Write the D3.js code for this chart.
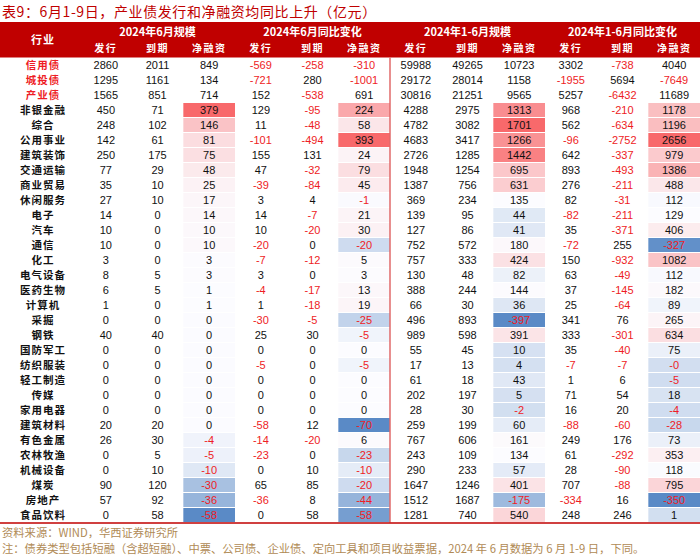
<!DOCTYPE html>
<html>
<head>
<meta charset="utf-8">
<script src="https://cdn.jsdelivr.net/npm/d3@7"></script>
<style>
  body { margin: 0; background: #fff; }
  svg text { font-family: "Liberation Sans", Arial, sans-serif; }
  .cjk { font-family: "Noto Sans CJK SC", sans-serif; }
</style>
</head>
<body>
<svg id="drawing_region"></svg>
<script>
// 行业
const industries = ["信用债","城投债","产业债","非银金融","综合","公用事业","建筑装饰","交通运输","商业贸易","休闲服务",
  "电子","汽车","通信","化工","电气设备","医药生物","计算机","采掘","钢铁","国防军工","纺织服装","轻工制造",
  "传媒","家用电器","建筑材料","有色金属","农林牧渔","机械设备","煤炭","房地产","食品饮料"];

const groupLabels = ["2024年6月规模","2024年6月同比变化","2024年1-6月规模","2024年1-6月同比变化"];
const subLabels = ["发行","到期","净融资"];

// 2024年6月规模
const issue6  = [2860,1295,1565,450,248,142,250,77,35,27,14,10,10,3,8,6,1,0,40,0,0,0,0,0,20,26,0,0,90,57,0];
const mature6 = [2011,1161,851,71,102,61,175,29,10,10,0,0,0,0,5,5,0,0,40,0,0,0,0,0,20,30,5,10,120,92,58];
const net6    = [849,134,714,379,146,81,75,48,25,17,14,10,10,3,3,1,1,0,0,0,0,0,0,0,0,-4,-5,-10,-30,-36,-58];
// 2024年6月同比变化
const issue6Yoy  = [-569,-721,152,129,11,-101,155,47,-39,3,14,10,-20,-7,3,-4,1,-30,25,0,-5,0,0,0,-58,-14,-23,0,65,-36,0];
const mature6Yoy = [-258,280,-538,-95,-48,-494,131,-32,-84,4,-7,-20,0,-12,0,-17,-18,-5,30,0,0,0,0,0,12,-20,0,10,85,8,58];
const net6Yoy    = [-310,-1001,691,224,58,393,24,79,45,-1,21,30,-20,5,3,13,19,-25,-5,0,-5,0,0,0,-70,6,-23,-10,-20,-44,-58];
// 2024年1-6月规模
const issueH1  = [59988,29172,30816,4288,4782,4683,2726,1948,1387,369,139,127,752,757,130,388,66,496,989,55,17,61,202,28,259,767,243,290,1647,1512,1281];
const matureH1 = [49265,28014,21251,2975,3082,3417,1285,1254,756,234,95,86,572,333,48,244,30,893,598,45,13,18,197,30,199,606,109,233,1246,1687,740];
const netH1    = [10723,1158,9565,1313,1701,1266,1442,695,631,135,44,41,180,424,82,144,36,-397,391,10,4,43,5,-2,60,161,134,57,401,-175,540];
// 2024年1-6月同比变化
const issueH1Yoy  = [3302,-1955,5257,968,562,-96,642,893,276,82,-82,35,-72,150,63,37,25,341,333,35,-7,1,71,16,-88,249,61,28,707,-334,248];
const matureH1Yoy = [-738,5694,-6432,-210,-634,-2752,-337,-493,-211,-31,-211,-371,255,-932,-49,-145,-64,76,-301,-40,-7,6,54,20,-60,176,-292,-90,-88,16,246];
const netH1Yoy    = [4040,-7649,11689,1178,1196,2656,979,1386,488,112,129,406,-327,1082,112,182,89,265,634,75,-0,-5,18,-4,-28,73,353,118,795,-350,1];

const columns = [issue6, mature6, net6, issue6Yoy, mature6Yoy, net6Yoy,
                 issueH1, matureH1, netH1, issueH1Yoy, matureH1Yoy, netH1Yoy];
const heatCols = [2, 5, 8, 11];
const nSummary = 3;   // 信用债/城投债/产业债 不着色

const W = 700, H = 558;
const RED = "#c00000", NEG = "#ee1c25";

const svg = d3.select("#drawing_region").attr("width", W).attr("height", H);

const x = d3.scaleBand().domain(d3.range(columns.length)).range([80, 700]);
const y = d3.scaleBand().domain(industries).range([57.5, 522.5]);
const headTop = 22;

// title
svg.append("text").attr("class", "cjk")
  .attr("x", 2).attr("y", 17)
  .attr("fill", RED).attr("font-size", 14).attr("letter-spacing", 0.6)
  .text("表9：6月1-9日，产业债发行和净融资均同比上升（亿元）");

// header
svg.append("rect").attr("x", 0).attr("y", headTop).attr("width", W).attr("height", y.range()[0] - headTop)
  .attr("fill", RED);

svg.append("text").attr("class", "cjk")
  .attr("x", 43).attr("y", 44).attr("text-anchor", "middle")
  .attr("fill", "#fff").attr("font-weight", 700).attr("font-size", 11).attr("letter-spacing", 1)
  .text("行业");

svg.selectAll(".grp").data(groupLabels).join("text")
  .attr("class", "cjk grp")
  .attr("x", (d, i) => x(i * 3 + 1) + x.bandwidth() / 2)
  .attr("y", 36).attr("text-anchor", "middle")
  .attr("fill", "#fff").attr("font-weight", 700).attr("font-size", 11)
  .text(d => d);

svg.selectAll(".sub").data(d3.range(columns.length)).join("text")
  .attr("class", "cjk sub")
  .attr("x", i => x(i) + x.bandwidth() / 2)
  .attr("y", 52).attr("text-anchor", "middle")
  .attr("fill", "#fff").attr("font-weight", 700).attr("font-size", 10).attr("letter-spacing", 1.5)
  .text(i => subLabels[i % 3]);

// heat cells
const rowsIdx = d3.range(nSummary, industries.length);
heatCols.forEach(c => {
  const vals = rowsIdx.map(r => columns[c][r]).sort(d3.ascending);
  const color = d3.scaleLinear()
    .domain([d3.min(vals), d3.quantile(vals, 0.5), d3.max(vals)])
    .range(["#5a8ac6", "#fcfcff", "#f8696b"]);
  svg.append("g").selectAll("rect").data(rowsIdx).join("rect")
    .attr("x", x(c))
    .attr("y", r => y(industries[r]) + 0.5)
    .attr("width", x.bandwidth())
    .attr("height", y.bandwidth() - 1)
    .attr("fill", r => color(columns[c][r]));
});

// row labels
svg.append("g").selectAll("text").data(industries).join("text")
  .attr("class", "cjk")
  .attr("x", 43).attr("y", d => y(d) + y.bandwidth() / 2 + 4)
  .attr("text-anchor", "middle")
  .attr("font-weight", 700).attr("font-size", 10.5).attr("letter-spacing", 1)
  .attr("fill", (d, i) => i < nSummary ? NEG : "#111")
  .text(d => d);

// values
const fmt = v => Object.is(v, -0) ? "-0" : String(v);
columns.forEach((col, c) => {
  svg.append("g").selectAll("text").data(col).join("text")
    .attr("x", x(c) + x.bandwidth() / 2)
    .attr("y", (d, i) => y(industries[i]) + y.bandwidth() / 2 + 4)
    .attr("text-anchor", "middle").attr("font-size", 11)
    .attr("fill", d => (d < 0 || Object.is(d, -0)) ? NEG : "#111")
    .text(fmt);
});

// separator lines
svg.append("line")
  .attr("x1", x(6)).attr("x2", x(6))
  .attr("y1", y.range()[0]).attr("y2", y.range()[1])
  .attr("stroke", "#e06a6a").attr("stroke-width", 1.5);
svg.append("line")
  .attr("x1", 0).attr("x2", W)
  .attr("y1", y.range()[1] + 0.5).attr("y2", y.range()[1] + 0.5)
  .attr("stroke", RED).attr("stroke-width", 1.5);

// notes
const notes = ["资料来源：WIND，华西证券研究所",
  "注：债券类型包括短融（含超短融）、中票、公司债、企业债、定向工具和项目收益票据，2024 年 6 月数据为 6 月 1-9 日，下同。"];
svg.selectAll(".note").data(notes).join("text")
  .attr("class", "cjk note")
  .attr("x", 2).attr("y", (d, i) => 537 + i * 16)
  .attr("font-size", 11.3).attr("fill", "#b08a55")
  .text(d => d);
</script>
</body>
</html>
